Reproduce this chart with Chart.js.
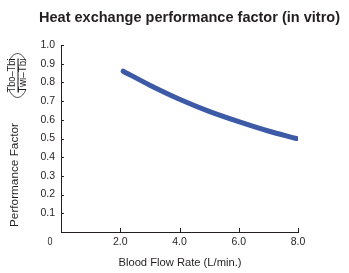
<!DOCTYPE html>
<html><head><meta charset="utf-8">
<script src="https://cdn.jsdelivr.net/npm/chart.js@4"></script>
<style>html,body{margin:0;padding:0;background:#fff}#wrap{width:349px;height:273px;position:relative}</style>
</head><body><div id="wrap"><canvas id="c" width="349" height="273"></canvas></div>
<script>
const titleText = 'Heat exchange performance factor (in vitro)';
const xTitle = 'Blood Flow Rate (L/min.)';
const yTitle = 'Performance Factor';
const yNumerator = 'Tbo\u2013Tbi';
const yDenominator = 'Twi\u2013Tbi';
const flowRate = [2.1, 3.0, 4.0, 5.0, 6.0, 7.0, 7.95];
const perfFactor = [0.86, 0.785, 0.71, 0.645, 0.59, 0.54, 0.50];
const xTickValues = [2, 4, 6, 8];
const yTickValues = [0.1,0.2,0.3,0.4,0.5,0.6,0.7,0.8,0.9,1.0];

const FONT = '"Liberation Sans", Arial, sans-serif';
const TXT = '#231f20';

function fitText(ctx, text, cx, cy, width) {
  const w = ctx.measureText(text).width;
  ctx.save();
  ctx.translate(cx, cy);
  ctx.scale(width / w, 1);
  ctx.fillText(text, 0, 0);
  ctx.restore();
}

const deco = {
  id: 'deco',
  afterDraw(chart) {
    const ctx = chart.ctx, xs = chart.scales.x, ys = chart.scales.y;
    ctx.save();
    ctx.strokeStyle = TXT; ctx.lineWidth = 1;
    yTickValues.forEach(v => {
      const y = Math.round(ys.getPixelForValue(v)) + 0.5;
      ctx.beginPath(); ctx.moveTo(xs.left, y); ctx.lineTo(xs.left + 3, y); ctx.stroke();
    });
    xTickValues.forEach(v => {
      const x = Math.round(xs.getPixelForValue(v)) + 0.5;
      ctx.beginPath(); ctx.moveTo(x, ys.bottom); ctx.lineTo(x, ys.bottom - 4); ctx.stroke();
    });
    ctx.fillStyle = TXT;
    ctx.textAlign = 'center'; ctx.textBaseline = 'middle';
    ctx.font = 'bold 14px ' + FONT;
    fitText(ctx, titleText, 189.5, 18, 301);
    ctx.font = '11px ' + FONT;
    fitText(ctx, '0', xs.getPixelForValue(0) - 11, 242, 5);
    fitText(ctx, xTitle, 180, 263, 123);
    ctx.save();
    ctx.translate(15, 175);
    ctx.rotate(-Math.PI / 2);
    fitText(ctx, yTitle, 0, 0, 104);
    ctx.restore();
    ctx.save();
    ctx.translate(17.5, 75.5);
    ctx.rotate(-Math.PI / 2);
    ctx.font = '10px ' + FONT;
    fitText(ctx, yNumerator, 0, -5, 34);
    fitText(ctx, yDenominator, 0, 6, 34);
    ctx.lineWidth = 1;
    ctx.beginPath(); ctx.moveTo(-17, 0.5); ctx.lineTo(17, 0.5); ctx.stroke();
    ctx.lineWidth = 0.8;
    ctx.beginPath(); ctx.ellipse(0, 0, 22, 11, 0, Math.PI * 0.72, Math.PI * 1.28); ctx.stroke();
    ctx.beginPath(); ctx.ellipse(0, 0, 22, 11, 0, -Math.PI * 0.28, Math.PI * 0.28); ctx.stroke();
    ctx.restore();
    ctx.restore();
  }
};

new Chart(document.getElementById('c'), {
  type: 'line',
  data: {
    datasets: [{
      data: flowRate.map((x, i) => ({x, y: perfFactor[i]})),
      borderColor: '#3c5aa6',
      borderWidth: 5,
      borderCapStyle: 'round',
      borderJoinStyle: 'round',
      pointRadius: 0,
      tension: 0.4,
      cubicInterpolationMode: 'monotone',
      fill: false
    }]
  },
  options: {
    responsive: false,
    animation: false,
    layout: { padding: { top: 45, right: 51, left: 0, bottom: 0 } },
    plugins: { legend: { display: false }, title: { display: false }, tooltip: { enabled: false } },
    scales: {
      x: {
        type: 'linear', min: 0, max: 8,
        afterBuildTicks: s => { s.ticks = xTickValues.map(v => ({value: v})); },
        ticks: { callback: v => v.toFixed(1), color: TXT, font: { family: FONT, size: 10.5 }, padding: 4, maxRotation: 0 },
        grid: { display: false, drawTicks: false },
        border: { display: true, color: TXT, width: 1 },
        afterFit: s => { s.height = 41; }
      },
      y: {
        min: 0, max: 1,
        afterBuildTicks: s => { s.ticks = yTickValues.map(v => ({value: v})); },
        ticks: { callback: v => v.toFixed(1), color: TXT, font: { family: FONT, size: 10.5 }, padding: 6 },
        grid: { display: false, drawTicks: false },
        border: { display: true, color: TXT, width: 1 },
        afterFit: s => { s.width = 61; }
      }
    }
  },
  plugins: [deco]
});
</script></body></html>
